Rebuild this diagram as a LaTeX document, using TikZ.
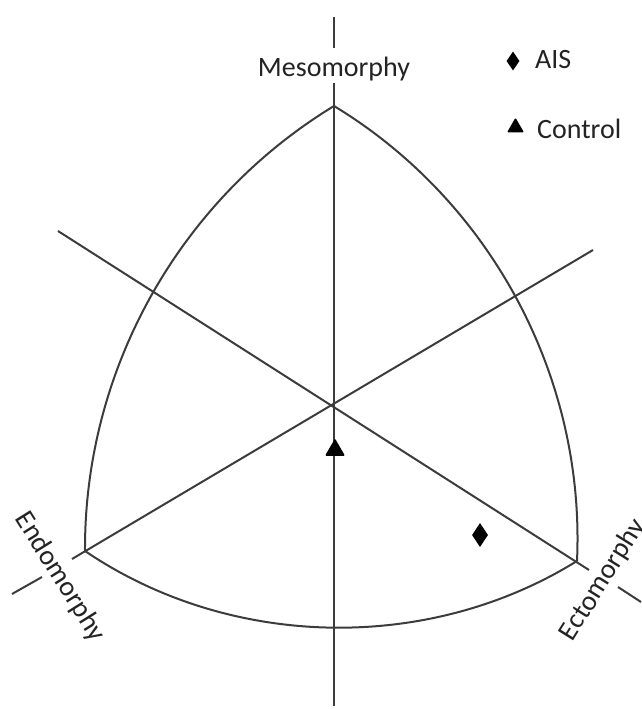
\documentclass[tikz,border=0pt]{standalone}
\usepackage{fontspec}
\setmainfont{Carlito}
\usetikzlibrary{shapes.geometric}
\definecolor{linegray}{RGB}{60,60,60}
\definecolor{textgray}{RGB}{35,35,35}

\begin{document}
\begin{tikzpicture}[x=1pt,y=-1pt]
        \tikzset{axis/.style={draw=linegray,line width=2pt},
        rim/.style={draw=linegray,line width=2pt,looseness=0.91},
        axlabel/.style={text=textgray,inner sep=0pt,font=\fontsize{28}{32}\selectfont},
        aismark/.style={diamond,fill=black,inner sep=0pt,minimum width=16pt,minimum height=24pt},
        ctrlmark/.style={regular polygon,regular polygon sides=3,fill=black,inner sep=0pt,
        rounded corners=1pt,minimum size=23pt},
        }
        \useasboundingbox (0,0) rectangle (641,709);

%% corners and axis ends
        \coordinate (O) at (333,404);
        \coordinate (meso) at (334,106);
        \coordinate (endo) at (85,551);
        \coordinate (ecto) at (577,561);
        \coordinate (mtop) at (334,17);
        \coordinate (mgapa) at (334,48);
        \coordinate (mgapb) at (334,83);
        \coordinate (vbot) at (334,706);
        \coordinate (endoright) at (593,250);
        \coordinate (endogapa) at (72,559);
        \coordinate (endogapb) at (42,577);
        \coordinate (endoend) at (12,594);
        \coordinate (ectoleft) at (58,231);
        \coordinate (ectogapa) at (589,570);
        \coordinate (ectogapb) at (618,587);
        \coordinate (ectoend) at (641,602);

%% axes
        \draw[axis] (mtop) -- (mgapa);
        \draw[axis] (mgapb) -- (vbot);
        \draw[axis] (endoright) -- (endogapa);
        \draw[axis] (endogapb) -- (endoend);
        \draw[axis] (ectoleft) -- (ectogapa);
        \draw[axis] (ectogapb) -- (ectoend);

%% somatochart outline
        \path[rim] (meso) to[bend right=29.5] (endo)
                   (endo) to[bend right=33] (ecto)
                   (ecto) to[bend right=30.7] (meso);

%% labels
        \node[axlabel,anchor=base] (mesolabel) at (334,76) {Mesomorphy};
        \node[axlabel,rotate=-58] (endolabel) at (60,577) {Endomorphy};
        \node[axlabel,rotate=58] (ectolabel) at (603,580) {Ectomorphy};

%% data points
        \node[ctrlmark] (ctrl) at (335,450) {};
        \node[aismark] (ais) at (480,535) {};

%% legend
        \node[aismark,minimum width=13pt,minimum height=19pt] (aiskey) at (513,61) {};
        \node[axlabel,anchor=base west] (aistext) at (535,69) {AIS};
        \node[ctrlmark,minimum size=19.6pt] (ctrlkey) at (515.5,127.5) {};
        \node[axlabel,anchor=base west] (ctrltext) at (537,138) {Control};
\end{tikzpicture}
\end{document}
